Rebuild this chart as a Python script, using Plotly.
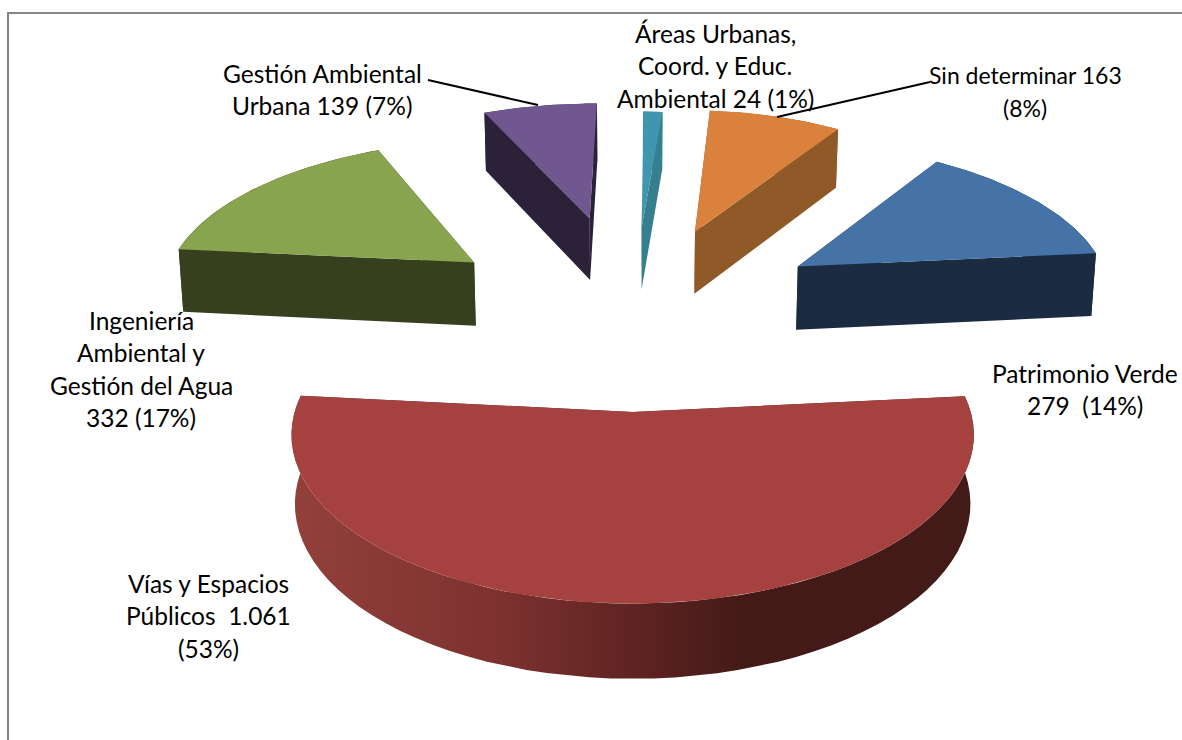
import math
import plotly.graph_objects as go

# ---- data (clockwise from the top) ----
categories = ["Áreas Urbanas, Coord. y Educ. Ambiental", "Sin determinar", "Patrimonio Verde",
              "Vías y Espacios Públicos", "Ingeniería Ambiental y Gestión del Agua", "Gestión Ambiental Urbana"]
values = [24, 163, 279, 1061, 332, 139]
top_colors = ["#4196AF", "#D9813D", "#4572A7", "#A5423F", "#89A44E", "#71578F"]
wall_colors = ["#357F8F", "#8F5928", "#1B2C42", None, "#36401E", "#2B2138"]
label_lines = [
    ["Áreas Urbanas,", "Coord. y Educ.", "Ambiental 24 (1%)"],
    ["Sin determinar 163", "(8%)"],
    ["Patrimonio Verde", "279  (14%)"],
    ["Vías y Espacios", "Públicos  1.061", "(53%)"],
    ["Ingeniería", "Ambiental y", "Gestión del Agua", "332 (17%)"],
    ["Gestión Ambiental", "Urbana 139 (7%)"],
]
label_x = [715, 1025, 1085, 208, 141, 322]
label_y = [33, 75, 373, 583, 320, 73]
label_size = [24.5, 23, 24.5, 24.5, 24.5, 24.5]

# ---- camera model of the tilted pie ----
XV, YH = 633, -810      # vanishing point
F, H = 2480, 8920       # focal scale, camera height
D0 = 7.96
explode = [0.64, 0.64, 0.64, 0.66, 0.655, 0.73]
depth_offset = [0, 0, 0, 0, -0.025, 0]
radius_x = [1.0, 1.015, 1.02, 0.995, 1.015, 1.03]
radius_z = [1.08, 1.13, 1.08, 0.99, 1.07, 1.09]
START = -5.5 - (279 + 163 + 24) / sum(values) * 360   # first slice start angle, clockwise from +x


def proj(X, D, bottom=False):
    x = XV + F * X / D
    y = YH + H / D
    if bottom:
        return XV + (x - XV) * 0.99, y + 54 + 0.035 * y
    return x, y


def rim(ax, ad, a0, a1, rx, rz, n=60):
    pts = []
    for i in range(n + 1):
        t = math.radians(a0 + (a1 - a0) * i / n)
        pts.append((ax + rx * math.cos(t), ad - rz * math.sin(t)))
    return pts


def poly(points, color, gradient=None):
    xs = [p[0] for p in points] + [points[0][0]]
    ys = [p[1] for p in points] + [points[0][1]]
    kw = dict(fillcolor=color) if gradient is None else dict(
        fillgradient=dict(type="horizontal", colorscale=gradient))
    return go.Scatter(x=xs, y=ys, mode="lines", fill="toself", line=dict(width=0),
                      hoverinfo="skip", showlegend=False, **kw)


fig = go.Figure()
total = sum(values)
red_gradient = [[0, "#93403B"], [0.3, "#7D322F"], [0.5, "#5F2422"], [0.66, "#431A17"], [1, "#421A17"]]

angle = START
slices = []
for v in values:
    span = v / total * 360
    slices.append((angle, angle + span))
    angle += span

order = sorted(range(len(values)),
               key=lambda k: -(D0 - explode[k] * math.sin(math.radians(sum(slices[k]) / 2))))
for i in order:
    a0, a1 = slices[i]
    mid = math.radians((a0 + a1) / 2)
    ax, ad = explode[i] * math.cos(mid), D0 - explode[i] * math.sin(mid) + depth_offset[i]
    r = rim(ax, ad, a0, a1, radius_x[i], radius_z[i])
    top = [proj(*p) for p in r]
    bot = [proj(*p, bottom=True) for p in r]
    apex_t, apex_b = proj(ax, ad), proj(ax, ad, True)
    wall = wall_colors[i]
    # side faces, farthest first
    faces = [
        (ad - math.sin(math.radians(a0)) / 2, [apex_t, top[0], bot[0], apex_b], wall or "#5A2321", None),
        (ad - math.sin(math.radians(a1)) / 2, [apex_t, top[-1], bot[-1], apex_b], wall or "#5A2321", None),
        (ad - math.sin(mid), top + bot[::-1], wall or "#5A2321", None if wall else red_gradient),
    ]
    for _, pts, c, g in sorted(faces, key=lambda f: -f[0]):
        fig.add_trace(poly(pts, c, g))
    fig.add_trace(poly([apex_t] + top, top_colors[i]))

# leader lines
leader_x = [[428, 538], [930, 777]]
leader_y = [[80, 105], [82, 117]]
for lx, ly in zip(leader_x, leader_y):
    fig.add_trace(go.Scatter(x=lx, y=ly, mode="lines", line=dict(color="black", width=2),
                             hoverinfo="skip", showlegend=False))

# chart frame (top and left edges are what shows)
fig.add_trace(go.Scatter(x=[8, 8, 1182], y=[740, 13, 13], mode="lines",
                         line=dict(color="#868686", width=2), hoverinfo="skip", showlegend=False))

for lines, x, y, size in zip(label_lines, label_x, label_y, label_size):
    for j, s in enumerate(lines):
        fig.add_annotation(x=x, y=y + j * 32.5, text=s, showarrow=False, xanchor="center", yanchor="middle",
                           font=dict(family="Lato", size=size, color="black"))

fig.update_xaxes(range=[0, 1182], visible=False, fixedrange=True)
fig.update_yaxes(range=[740, 0], visible=False, fixedrange=True)
fig.update_layout(width=1182, height=740, margin=dict(l=0, r=0, t=0, b=0),
                  paper_bgcolor="white", plot_bgcolor="white", showlegend=False)
fig.write_html("out.html", post_script="document.body.style.margin='0';",
               config={"displayModeBar": False})
